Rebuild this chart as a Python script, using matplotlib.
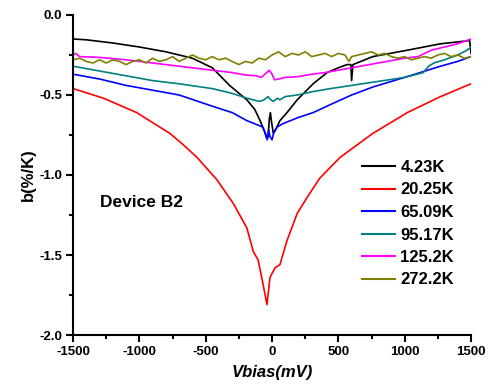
import matplotlib
matplotlib.use("Agg")
import matplotlib.pyplot as plt
from matplotlib.ticker import MultipleLocator, FuncFormatter

plt.rcParams['font.family'] = ['Liberation Sans', 'DejaVu Sans']
plt.rcParams['font.weight'] = 'bold'
plt.rcParams['axes.unicode_minus'] = False

# ---- data ----
labels = ["4.23K", "20.25K", "65.09K", "95.17K", "125.2K", "272.2K"]
colors = ["#000000", "#ff0000", "#0000ff", "#008080", "#ff00ff", "#808000"]

x_423 = [-1500, -1400, -1200, -1000, -800, -600, -450, -320, -190, -130, -90, -60, -40, -30,
         -20, -12, -5, 10, 25, 60, 113, 190, 310, 415, 500, 565, 595, 600, 610, 760, 1020,
         1270, 1490, 1500]
y_423 = [-0.15, -0.155, -0.175, -0.20, -0.23, -0.27, -0.33, -0.44, -0.53, -0.59, -0.66, -0.72,
         -0.77, -0.76, -0.65, -0.61, -0.66, -0.74, -0.72, -0.66, -0.61, -0.53, -0.43, -0.36,
         -0.33, -0.31, -0.31, -0.41, -0.31, -0.26, -0.22, -0.18, -0.16, -0.24]

x_2025 = [-1500, -1270, -1020, -770, -670, -565, -415, -290, -190, -140, -105, -68, -38, -15,
          23, 60, 113, 190, 265, 360, 513, 760, 1020, 1270, 1500]
y_2025 = [-0.46, -0.52, -0.61, -0.74, -0.81, -0.89, -1.03, -1.18, -1.33, -1.48, -1.53, -1.68,
          -1.81, -1.64, -1.58, -1.56, -1.41, -1.24, -1.14, -1.02, -0.89, -0.74, -0.61, -0.51,
          -0.43]

x_6509 = [-1500, -1300, -1100, -900, -700, -450, -300, -190, -100, -70, -50, -35, -25, -15, 0,
          15, 40, 80, 140, 200, 310, 440, 600, 760, 1000, 1270, 1400, 1500]
y_6509 = [-0.37, -0.40, -0.44, -0.47, -0.50, -0.57, -0.61, -0.66, -0.69, -0.70, -0.74, -0.78,
          -0.72, -0.76, -0.78, -0.73, -0.70, -0.68, -0.66, -0.64, -0.61, -0.56, -0.50, -0.45,
          -0.39, -0.32, -0.29, -0.26]

x_9517 = [-1500, -1300, -1100, -900, -700, -450, -300, -190, -120, -90, -60, -30, -10, 10, 40,
          60, 100, 190, 300, 440, 600, 840, 1000, 1140, 1180, 1220, 1300, 1400, 1470, 1500]
y_9517 = [-0.32, -0.35, -0.38, -0.41, -0.43, -0.46, -0.49, -0.52, -0.535, -0.54, -0.53, -0.51,
          -0.53, -0.54, -0.52, -0.53, -0.51, -0.50, -0.48, -0.46, -0.44, -0.41, -0.39, -0.36,
          -0.32, -0.30, -0.28, -0.25, -0.22, -0.20]

x_1252 = [-1500, -1480, -1450, -1300, -1100, -900, -700, -500, -300, -200, -120, -80, -40, -20,
          0, 20, 50, 100, 200, 300, 400, 600, 800, 1000, 1100, 1200, 1300, 1400, 1500]
y_1252 = [-0.25, -0.24, -0.26, -0.265, -0.28, -0.30, -0.32, -0.34, -0.36, -0.375, -0.38, -0.39,
          -0.36, -0.345, -0.37, -0.405, -0.40, -0.39, -0.385, -0.37, -0.36, -0.33, -0.30, -0.27,
          -0.26, -0.22, -0.20, -0.18, -0.15]

x_2722 = [-1500, -1450, -1400, -1350, -1300, -1250, -1200, -1150, -1100, -1050, -1000, -950,
          -900, -850, -800, -750, -700, -650, -600, -550, -500, -450, -400, -350, -300, -250,
          -200, -150, -100, -50, 0, 50, 100, 150, 200, 250, 300, 350, 400, 450, 500, 550, 580,
          600, 650, 700, 750, 800, 850, 900, 950, 1000, 1050, 1100, 1150, 1200, 1250, 1300,
          1350, 1400, 1450, 1500]
y_2722 = [-0.28, -0.27, -0.29, -0.30, -0.28, -0.30, -0.28, -0.29, -0.31, -0.29, -0.28, -0.30,
          -0.27, -0.29, -0.28, -0.26, -0.29, -0.27, -0.25, -0.27, -0.28, -0.26, -0.28, -0.27,
          -0.29, -0.31, -0.29, -0.30, -0.27, -0.28, -0.25, -0.23, -0.26, -0.24, -0.25, -0.23,
          -0.26, -0.25, -0.24, -0.26, -0.24, -0.25, -0.29, -0.26, -0.25, -0.24, -0.23, -0.25,
          -0.24, -0.26, -0.27, -0.26, -0.28, -0.27, -0.26, -0.27, -0.25, -0.24, -0.26, -0.25,
          -0.27, -0.26]

series_x = [x_423, x_2025, x_6509, x_9517, x_1252, x_2722]
series_y = [y_423, y_2025, y_6509, y_9517, y_1252, y_2722]

fig = plt.figure(figsize=(4.9, 3.85), dpi=100)
ax = fig.add_axes([73/490, 1 - 335/385, (471 - 73)/490, (335 - 15)/385])

for xs, ys, c, lab in zip(series_x, series_y, colors, labels):
    ax.plot(xs, ys, color=c, lw=1.2, label=lab)

ax.set_xlim(-1500, 1500)
ax.set_ylim(-2.0, 0.0)
ax.xaxis.set_major_locator(MultipleLocator(500))
ax.xaxis.set_minor_locator(MultipleLocator(250))
ax.yaxis.set_major_locator(MultipleLocator(0.5))
ax.yaxis.set_minor_locator(MultipleLocator(0.25))
ax.yaxis.set_major_formatter(FuncFormatter(lambda v, p: f"{v:.1f}"))
ax.xaxis.set_major_formatter(FuncFormatter(lambda v, p: f"{v:.0f}"))

for s in ['top', 'right']:
    ax.spines[s].set_visible(False)
for s in ['left', 'bottom']:
    ax.spines[s].set_linewidth(1.5)
ax.tick_params(which='major', direction='out', length=5, width=1.5, labelsize=9.5, pad=3)
ax.tick_params(which='minor', direction='out', length=3, width=1.5)
for t in ax.get_xticklabels() + ax.get_yticklabels():
    t.set_fontweight('bold')

ax.set_xlabel("Vbias(mV)", fontsize=12, fontweight='bold', fontstyle='italic', labelpad=5)
ax.set_ylabel("b(%/K)", fontsize=12, fontweight='bold', labelpad=2)

ax.text(-1300, -1.175, "Device B2", fontsize=12.5, fontweight='bold', ha='left', va='center')

leg = ax.legend(loc='upper left', bbox_to_anchor=(362/490, 1 - 160/385),
                bbox_transform=fig.transFigure, frameon=False, fontsize=12,
                handlelength=2.0, handletextpad=0.3, labelspacing=0.45,
                borderpad=0, borderaxespad=0)
for t in leg.get_texts():
    t.set_fontweight('bold')
for l in leg.get_lines():
    l.set_linewidth(1.5)

fig.savefig("out.png", dpi=100)
